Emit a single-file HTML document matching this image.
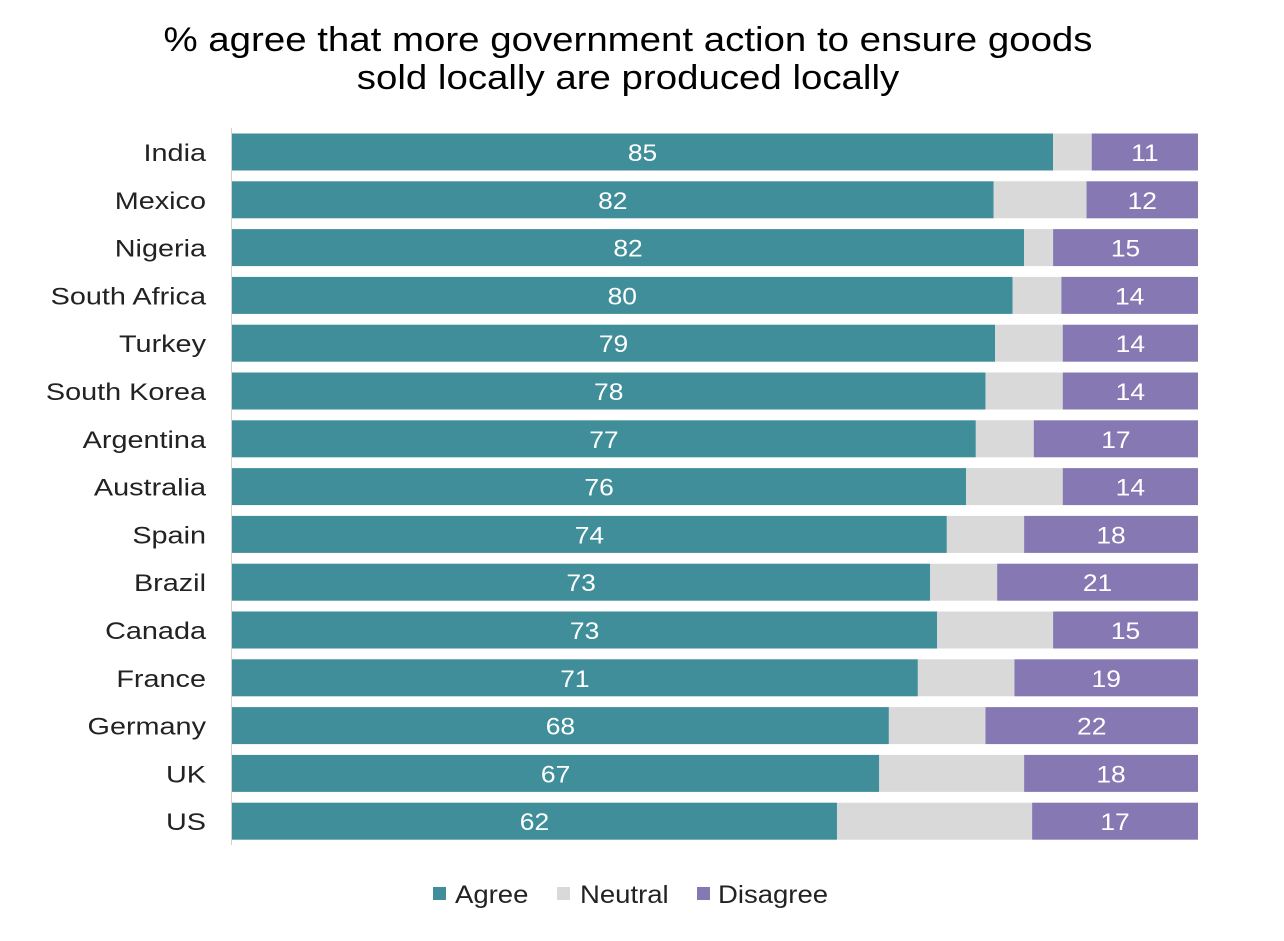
<!DOCTYPE html>
<html><head><meta charset="utf-8">
<style>
body{margin:0;background:#fff;width:1284px;height:936px;overflow:hidden;font-family:"Liberation Sans",sans-serif;}
</style></head>
<body>
<svg id="chart" width="1284" height="936" xmlns="http://www.w3.org/2000/svg" font-family="Liberation Sans, sans-serif">
<text class="st" data-f="1.13" x="628" y="51" font-size="34" text-anchor="middle" fill="#000">% agree that more government action to ensure goods</text>
<text class="st" data-f="1.13" x="628" y="89" font-size="34" text-anchor="middle" fill="#000">sold locally are produced locally</text>
<line x1="231.5" y1="128" x2="231.5" y2="845" stroke="#d0d0d0" stroke-width="1"/>
<g id="bars"></g>
<g>
<rect x="433" y="887" width="13" height="13" fill="#3f8e99"/>
<text class="st" data-f="1.1" x="455" y="903" font-size="25" fill="#222">Agree</text>
<rect x="557" y="887" width="13" height="13" fill="#d9d9d9"/>
<text class="st" data-f="1.1" x="580" y="903" font-size="25" fill="#222">Neutral</text>
<rect x="697" y="887" width="13" height="13" fill="#8679b3"/>
<text class="st" data-f="1.1" x="718" y="903" font-size="25" fill="#222">Disagree</text>
</g>
</svg>
<script>
const countries=["India","Mexico","Nigeria","South Africa","Turkey","South Korea","Argentina","Australia","Spain","Brazil","Canada","France","Germany","UK","US"];
const agree=[85,82,82,80,79,78,77,76,74,73,73,71,68,67,62];
const neutral=[4,10,3,5,7,8,6,10,8,7,12,10,10,15,20];
const disagree=[11,12,15,14,14,14,17,14,18,21,15,19,22,18,17];
const NS="http://www.w3.org/2000/svg";
const g=document.getElementById('bars');
const x0=232,plotW=966,y0=152,step=47.8,bh=37;
const xs=(v,t)=>x0+v/t*plotW;
function mk(tag,attrs){const e=document.createElementNS(NS,tag);for(const k in attrs)e.setAttribute(k,attrs[k]);g.appendChild(e);return e;}
countries.forEach((c,i)=>{
  const cy=y0+i*step, t=agree[i]+neutral[i]+disagree[i];
  const lab=mk('text',{x:206,y:cy+9,'font-size':24,'text-anchor':'end',fill:'#222',class:'st','data-f':'1.2'});
  lab.textContent=c;
  
  
  const segs=[[agree[i],'#3f8e99','agree'],[neutral[i],'#d9d9d9','neutral'],[disagree[i],'#8679b3','disagree']];
  let acc=0;
  segs.forEach(([v,col,nm])=>{
    const xa=xs(acc,t),xb=xs(acc+v,t);
    const r=mk('rect',{x:xa,y:cy-bh/2,width:xb-xa,height:bh,fill:col});
    
    
    if(nm!=='neutral'){
      const tx=mk('text',{x:(xa+xb)/2,y:cy+9,'font-size':24,'text-anchor':'middle',fill:'#fff',class:'st','data-f':'1.1'});
      tx.textContent=v;
      
      
    }
    acc+=v;
  });
});
document.querySelectorAll('.st').forEach(e=>{
  const L=e.getComputedTextLength();
  e.setAttribute('textLength',L*parseFloat(e.getAttribute('data-f')));
  e.setAttribute('lengthAdjust','spacingAndGlyphs');
});
</script>
</body></html>
